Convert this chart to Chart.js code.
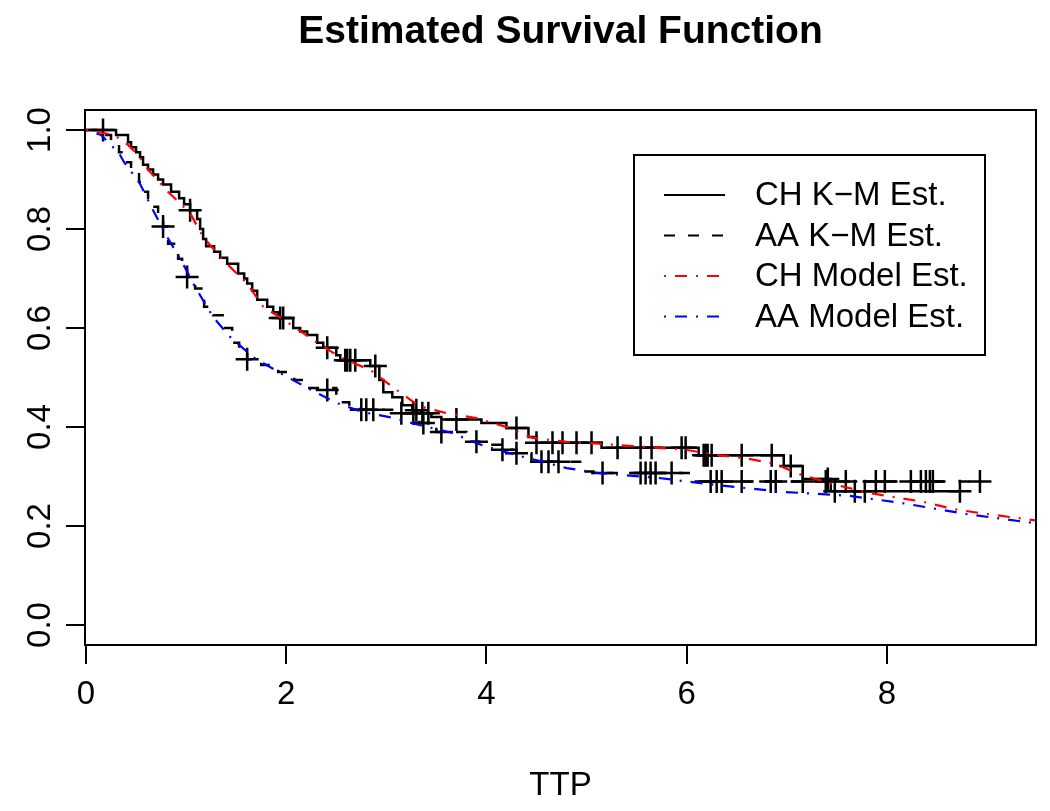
<!DOCTYPE html>
<html>
<head>
<meta charset="utf-8">
<script src="https://cdn.jsdelivr.net/npm/chart.js@4"></script>
<style>
  body { margin: 0; background: #fff; }
  canvas { display: block; }
</style>
</head>
<body>
<canvas id="grafico" width="1050" height="811"></canvas>
<script>
// Kaplan-Meier CH (escalones: tiempo, supervivencia)
const chKmT = [0, 0.30, 0.42, 0.45, 0.50, 0.54, 0.57, 0.62, 0.67, 0.72, 0.77, 0.85, 0.93, 0.98, 1.04, 1.11, 1.14, 1.17, 1.20, 1.28, 1.34, 1.41, 1.52, 1.58, 1.61, 1.66, 1.71, 1.81, 1.87, 1.92, 2.07, 2.14, 2.21, 2.31, 2.37, 2.50, 2.54, 2.84, 2.93, 2.97, 3.06, 3.16, 3.26, 3.35, 3.45, 3.55, 3.95, 4.20, 4.42, 4.50, 5.15, 6.12, 6.97, 7.16, 7.44, 8.73];
const chKmS = [1.0, 0.99, 0.975, 0.965, 0.955, 0.945, 0.93, 0.92, 0.91, 0.90, 0.89, 0.875, 0.862, 0.85, 0.838, 0.82, 0.80, 0.78, 0.765, 0.754, 0.742, 0.73, 0.71, 0.70, 0.69, 0.675, 0.657, 0.643, 0.632, 0.62, 0.60, 0.593, 0.586, 0.57, 0.56, 0.545, 0.535, 0.523, 0.495, 0.47, 0.46, 0.444, 0.434, 0.428, 0.42, 0.415, 0.408, 0.398, 0.38, 0.368, 0.358, 0.343, 0.321, 0.295, 0.27, 0.27];

// Kaplan-Meier AA
const aaKmT = [0, 0.15, 0.25, 0.33, 0.38, 0.45, 0.53, 0.58, 0.62, 0.65, 0.72, 0.77, 0.82, 0.88, 0.92, 0.96, 1.01, 1.09, 1.18, 1.27, 1.39, 1.46, 1.53, 1.61, 1.75, 1.92, 2.08, 2.21, 2.50, 2.63, 2.74, 3.10, 3.33, 3.50, 3.80, 3.93, 4.15, 4.30, 4.45, 4.95, 5.07, 6.05, 8.93];
const aaKmS = [1.0, 0.99, 0.975, 0.955, 0.935, 0.915, 0.895, 0.875, 0.86, 0.845, 0.82, 0.805, 0.77, 0.755, 0.74, 0.72, 0.703, 0.68, 0.643, 0.626, 0.60, 0.57, 0.555, 0.537, 0.525, 0.511, 0.495, 0.479, 0.45, 0.44, 0.435, 0.428, 0.408, 0.39, 0.37, 0.364, 0.354, 0.347, 0.33, 0.31, 0.307, 0.29, 0.29];

// Observaciones censuradas
const chCensT = [0.17, 1.04, 1.94, 1.97, 2.41, 2.59, 2.61, 2.64, 2.69, 2.89, 3.30, 3.36, 3.42, 3.70, 4.30, 4.50, 4.66, 4.76, 4.90, 5.05, 5.31, 5.54, 5.65, 5.95, 5.99, 6.17, 6.19, 6.21, 6.25, 6.55, 6.85, 7.04, 7.41, 7.48, 7.68, 7.78, 8.73];
const chCensS = [1.0, 0.838, 0.62, 0.62, 0.56, 0.535, 0.535, 0.535, 0.535, 0.523, 0.434, 0.428, 0.428, 0.415, 0.398, 0.368, 0.368, 0.368, 0.368, 0.368, 0.358, 0.358, 0.358, 0.358, 0.358, 0.343, 0.343, 0.343, 0.343, 0.343, 0.343, 0.321, 0.295, 0.27, 0.27, 0.27, 0.27];
const aaCensT = [0.77, 1.01, 1.61, 2.41, 2.75, 2.80, 2.87, 3.15, 3.27, 3.37, 3.55, 3.90, 4.16, 4.30, 4.55, 4.62, 4.72, 5.16, 5.54, 5.59, 5.64, 5.69, 5.85, 6.24, 6.30, 6.35, 6.55, 6.84, 6.89, 7.16, 7.39, 7.59, 7.89, 7.98, 8.24, 8.34, 8.39, 8.43, 8.46, 8.93];
const aaCensS = [0.805, 0.703, 0.537, 0.475, 0.435, 0.435, 0.435, 0.428, 0.428, 0.408, 0.39, 0.37, 0.354, 0.347, 0.33, 0.33, 0.33, 0.307, 0.307, 0.307, 0.307, 0.307, 0.307, 0.29, 0.29, 0.29, 0.29, 0.29, 0.29, 0.29, 0.29, 0.29, 0.29, 0.29, 0.29, 0.29, 0.29, 0.29, 0.29, 0.29];

// Curvas del modelo
const chModT = [0, 0.28, 0.42, 0.52, 0.62, 0.80, 1.04, 1.17, 1.37, 1.61, 1.77, 2.01, 2.31, 2.54, 2.84, 3.06, 3.33, 3.60, 3.90, 4.20, 4.46, 4.80, 5.09, 5.42, 5.99, 6.32, 6.59, 6.89, 7.12, 7.46, 7.79, 8.36, 8.67, 8.97, 9.50];
const chModS = [1.0, 0.99, 0.97, 0.95, 0.92, 0.879, 0.832, 0.784, 0.737, 0.69, 0.643, 0.612, 0.57, 0.541, 0.515, 0.481, 0.442, 0.428, 0.418, 0.40, 0.378, 0.37, 0.367, 0.362, 0.354, 0.343, 0.337, 0.325, 0.305, 0.285, 0.268, 0.249, 0.234, 0.225, 0.211];
const aaModT = [0, 0.15, 0.33, 0.38, 0.53, 0.67, 0.81, 0.95, 1.09, 1.27, 1.44, 1.67, 1.94, 2.21, 2.51, 2.77, 3.03, 3.33, 3.66, 3.93, 4.30, 4.56, 4.80, 5.12, 5.72, 6.29, 6.96, 7.62, 8.13, 8.80, 9.50];
const aaModS = [1.0, 0.99, 0.953, 0.935, 0.895, 0.838, 0.784, 0.737, 0.683, 0.622, 0.582, 0.541, 0.509, 0.479, 0.448, 0.43, 0.42, 0.404, 0.388, 0.365, 0.343, 0.33, 0.317, 0.307, 0.297, 0.283, 0.269, 0.261, 0.247, 0.224, 0.205];

// Marcas de los ejes
const xTicks = [0, 2, 4, 6, 8];
const yTicks = [0.0, 0.2, 0.4, 0.6, 0.8, 1.0];

const fuente = '"Liberation Sans", Arial, Helvetica, sans-serif';

function puntos(t, s) {
    return t.map((v, i) => ({ x: v, y: s[i] }));
}

// Marco alrededor del area del grafico y leyenda
const marco = {
    id: 'marco',
    afterDraw(chart) {
        const { ctx, chartArea: a } = chart;
        ctx.save();
        ctx.strokeStyle = '#000';
        ctx.lineWidth = 2;
        ctx.strokeRect(a.left, a.top, a.right - a.left, a.bottom - a.top);

        // leyenda
        const bx = a.right - 402, by = a.top + 45;
        ctx.strokeRect(bx, by, 351, 200);
        const orden = [2, 3, 0, 1];
        orden.forEach((idx, i) => {
            const ds = chart.data.datasets[idx];
            const y = by + 40 + i * 40.5;
            ctx.beginPath();
            ctx.setLineDash(ds.borderDash || []);
            ctx.strokeStyle = ds.borderColor;
            ctx.lineWidth = 2;
            ctx.moveTo(bx + 30, y);
            ctx.lineTo(bx + 91, y);
            ctx.stroke();
            ctx.setLineDash([]);
            ctx.fillStyle = '#000';
            ctx.font = '33px ' + fuente;
            ctx.textAlign = 'left';
            ctx.textBaseline = 'middle';
            ctx.fillText(ds.label, bx + 121, y + 1);
        });
        ctx.restore();
    }
};

const censura = {
    showLine: false,
    pointStyle: 'cross',
    pointRadius: 11.5,
    pointBorderWidth: 2.5,
    pointBorderColor: '#000',
    borderColor: '#000',
    order: 2
};

const ctx = document.getElementById('grafico').getContext('2d');
const grafico = new Chart(ctx, {
    type: 'scatter',
    data: {
        datasets: [
            {
                label: 'CH Model Est.',
                data: puntos(chModT, chModS),
                showLine: true,
                borderColor: '#ff0000',
                borderWidth: 2.2,
                borderDash: [2, 9, 12, 9],
                pointRadius: 0,
                order: 0
            },
            {
                label: 'AA Model Est.',
                data: puntos(aaModT, aaModS),
                showLine: true,
                borderColor: '#0000ff',
                borderWidth: 2.2,
                borderDash: [2, 9, 12, 9],
                pointRadius: 0,
                order: 0
            },
            {
                label: 'CH K\u2212M Est.',
                data: puntos(chKmT, chKmS),
                showLine: true,
                stepped: true,
                borderColor: '#000',
                borderWidth: 2.5,
                pointRadius: 0,
                order: 1
            },
            {
                label: 'AA K\u2212M Est.',
                data: puntos(aaKmT, aaKmS),
                showLine: true,
                stepped: true,
                borderColor: '#000',
                borderWidth: 2.5,
                borderDash: [11, 13],
                pointRadius: 0,
                order: 1
            },
            Object.assign({ label: 'CH censura', data: puntos(chCensT, chCensS) }, censura),
            Object.assign({ label: 'AA censura', data: puntos(aaCensT, aaCensS) }, censura)
        ]
    },
    options: {
        responsive: false,
        animation: false,
        layout: { padding: { left: 0, right: 11, top: 0, bottom: 0 } },
        plugins: {
            legend: { display: false },
            tooltip: { enabled: false },
            title: {
                display: true,
                text: 'Estimated Survival Function',
                fullSize: false,
                color: '#000',
                font: { family: fuente, size: 39, weight: 'bold' },
                padding: { top: 9, bottom: 54.2 }
            }
        },
        scales: {
            x: {
                type: 'linear',
                min: -0.01,
                max: 9.49,
                afterBuildTicks: s => { s.ticks = xTicks.map(v => ({ value: v })); },
                afterFit: s => { s.height = 166; },
                border: { display: false },
                grid: { drawOnChartArea: false, drawTicks: true, tickLength: 19, color: '#000', lineWidth: 2 },
                ticks: {
                    color: '#000',
                    autoSkip: false,
                    maxRotation: 0,
                    padding: 11,
                    font: { family: fuente, size: 33 },
                    callback: v => String(v)
                },
                title: {
                    display: true,
                    text: 'TTP',
                    color: '#000',
                    font: { family: fuente, size: 33 },
                    padding: { top: 0, bottom: 5 }
                }
            },
            y: {
                type: 'linear',
                min: -0.0404,
                max: 1.0404,
                afterBuildTicks: s => { s.ticks = yTicks.map(v => ({ value: v })); },
                afterFit: s => { s.width = 85; },
                border: { display: false },
                grid: { drawOnChartArea: false, drawTicks: true, tickLength: 19, color: '#000', lineWidth: 2 },
                ticks: {
                    color: '#000',
                    autoSkip: false,
                    minRotation: 90,
                    maxRotation: 90,
                    crossAlign: 'center',
                    padding: 2,
                    font: { family: fuente, size: 33 },
                    callback: v => v.toFixed(1)
                }
            }
        }
    },
    plugins: [marco]
});
</script>
</body>
</html>
